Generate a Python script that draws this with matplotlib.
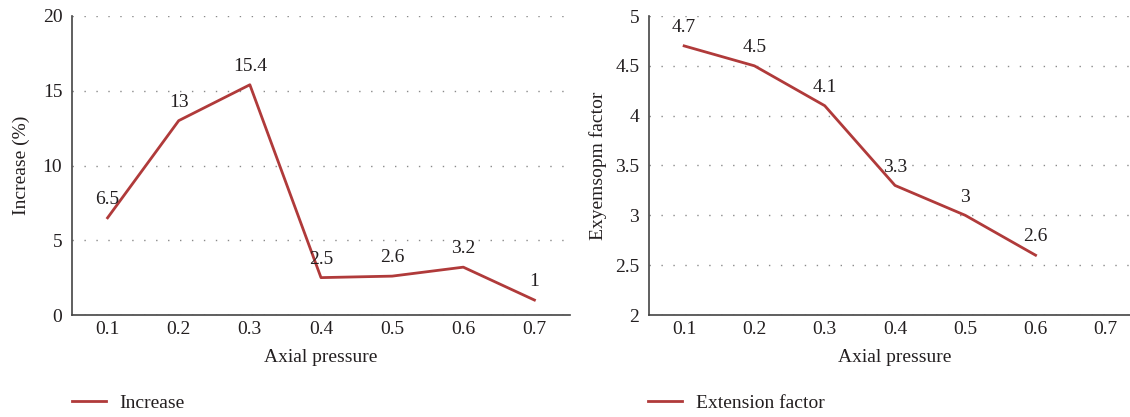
import matplotlib.pyplot as plt
import numpy as np

plt.rcParams['font.family'] = ['Liberation Serif', 'DejaVu Serif']

pressure = ["0.1", "0.2", "0.3", "0.4", "0.5", "0.6", "0.7"]
increase = [6.5, 13, 15.4, 2.5, 2.6, 3.2, 1]
extension = [4.7, 4.5, 4.1, 3.3, 3, 2.6]

red = "#b03a3a"
txt = "#231f20"
fs = 14
W, H = 1130, 417

fig = plt.figure(figsize=(W / 100, H / 100), dpi=100)
ax1 = fig.add_axes([72 / W, (H - 315) / H, (570 - 72) / W, 299 / H])
ax2 = fig.add_axes([649 / W, (H - 315) / H, (1141 - 649) / W, 299 / H])


def style(ax, ylim, yticks, ylabel, labelpad):
    ax.set_xlim(-0.5, 6.5)
    ax.set_ylim(*ylim)
    ax.set_xticks(range(len(pressure)))
    ax.set_xticklabels(pressure)
    ax.set_yticks(yticks)
    ax.set_yticklabels([f"{t:g}" for t in yticks])
    ax.tick_params(length=0, labelsize=fs, colors=txt)
    ax.tick_params(axis="x", pad=4)
    ax.tick_params(axis="y", pad=7)
    for s in ["top", "right"]:
        ax.spines[s].set_visible(False)
    for s in ["left", "bottom"]:
        ax.spines[s].set_color("#444444")
        ax.spines[s].set_linewidth(1.2)
    ax.yaxis.grid(True, color="#8a8a8a", linestyle=(0, (1, 7.6)), linewidth=1)
    ax.set_axisbelow(True)
    ax.set_xlabel("Axial pressure", fontsize=fs, color=txt, labelpad=8)
    ax.set_ylabel(ylabel, fontsize=fs, color=txt, labelpad=labelpad)


style(ax1, (0, 20), [0, 5, 10, 15, 20], "Increase (%)", 9)
style(ax2, (2, 5), [2, 2.5, 3, 3.5, 4, 4.5, 5], "Exyemsopm factor", 6)

x1 = np.arange(len(increase))
l1, = ax1.plot(x1, increase, color=red, linewidth=2, clip_on=False)
for x, v in zip(x1, increase):
    ax1.annotate(f"{v:g}", (x, v), xytext=(0, 7), textcoords="offset points",
                 ha="center", va="bottom", fontsize=fs, color=txt)

x2 = np.arange(len(extension))
l2, = ax2.plot(x2, extension, color=red, linewidth=2, clip_on=False)
for x, v in zip(x2, extension):
    ax2.annotate(f"{v:g}", (x, v), xytext=(0, 7), textcoords="offset points",
                 ha="center", va="bottom", fontsize=fs, color=txt)

for line, label, x0 in [(l1, "Increase", 72), (l2, "Extension factor", 648)]:
    fig.legend([line], [label], loc="center left", bbox_to_anchor=(x0 / W, 1 - 403 / H),
               frameon=False, fontsize=fs, handlelength=1.75, handletextpad=0.7,
               borderpad=0, borderaxespad=0, labelcolor=txt)

fig.savefig("out.png", dpi=100)
